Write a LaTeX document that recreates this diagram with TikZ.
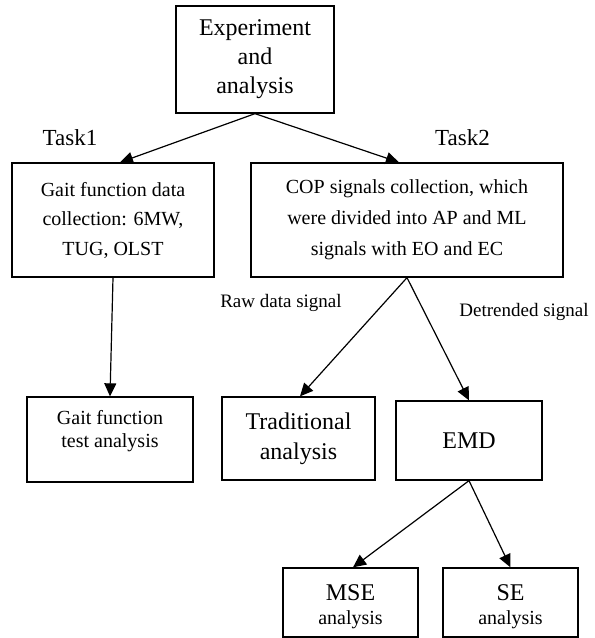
\documentclass[tikz,border=0pt]{standalone}
\usepackage{fontspec}
\setmainfont{Liberation Serif}
\usetikzlibrary{arrows.meta}
\begin{document}
\begin{tikzpicture}[x=1pt,y=-1pt,
 box/.style={draw,line width=1.3pt,inner sep=0pt,align=center},
 arr/.style={line width=1.2pt,-{Triangle[length=13pt,width=12pt]}},
 big/.style={font=\fontsize{24}{29}\selectfont},
 midA/.style={font=\fontsize{20}{29.5}\selectfont},
 midB/.style={font=\fontsize{20}{31}\selectfont},
 tight/.style={font=\fontsize{20}{23}\selectfont},
 lbl/.style={font=\fontsize{23}{28}\selectfont},
 sig/.style={font=\fontsize{19}{23}\selectfont},
 txt/.style={inner sep=0pt,align=center}]
\useasboundingbox (0,0) rectangle (595,638);
\fill[white] (0,0) rectangle (595,638);

\node[box,big,minimum width=158pt,minimum height=107pt] (top) at (255,59.5) {Experiment\\and\\analysis};
\node[box,midA,minimum width=202pt,minimum height=114pt] (t1) at (113,220) {Gait function data\\collection: 6MW,\\TUG, OLST};
\node[box,midB,minimum width=312pt,minimum height=114pt] (t2) at (407,220) {COP signals collection, which\\were divided into AP and ML\\signals with EO and EC};

\node[txt,lbl] (task1) at (70,138) {Task1};
\node[txt,lbl] (task2) at (462.5,138) {Task2};

\node[box,minimum width=166pt,minimum height=85pt] (gt) at (110,439.5) {};
\node[txt,tight] (gtt) at (110,431.5) {Gait function\\test analysis};

\node[box,big,font=\fontsize{24}{30}\selectfont,minimum width=153pt,minimum height=83pt] (trad) at (298.5,438.5) {Traditional\\analysis};
\node[box,big,minimum width=146pt,minimum height=79pt] (emd) at (469,440.5) {EMD};

\node[txt,sig] (raw) at (281,303) {Raw data signal};
\node[txt,sig] (det) at (524,312) {Detrended signal};

\node[box,minimum width=135pt,minimum height=69pt] (mse) at (350.5,602.5) {};
\node[txt,big] (mset) at (350.5,593) {MSE};
\node[txt,font=\fontsize{20}{24}\selectfont] (msea) at (350.5,620) {analysis};
\node[box,minimum width=135pt,minimum height=69pt] (se) at (510.5,602.5) {};
\node[txt,big] (set) at (510.5,593) {SE};
\node[txt,font=\fontsize{20}{24}\selectfont] (sea) at (510.5,620) {analysis};

\draw[arr] (top.south) -- ([xshift=7pt]t1.north);
\draw[arr] (top.south) -- ([xshift=-8pt]t2.north);
\draw[arr] (t1.south) -- (gt.north);
\draw[arr] (t2.south) -- ([xshift=1.5pt]trad.north);
\draw[arr] (t2.south) -- (emd.north);
\draw[arr] (emd.south) -- ([xshift=2.5pt]mse.north);
\draw[arr] (emd.south) -- (se.north);
\end{tikzpicture}
\end{document}
